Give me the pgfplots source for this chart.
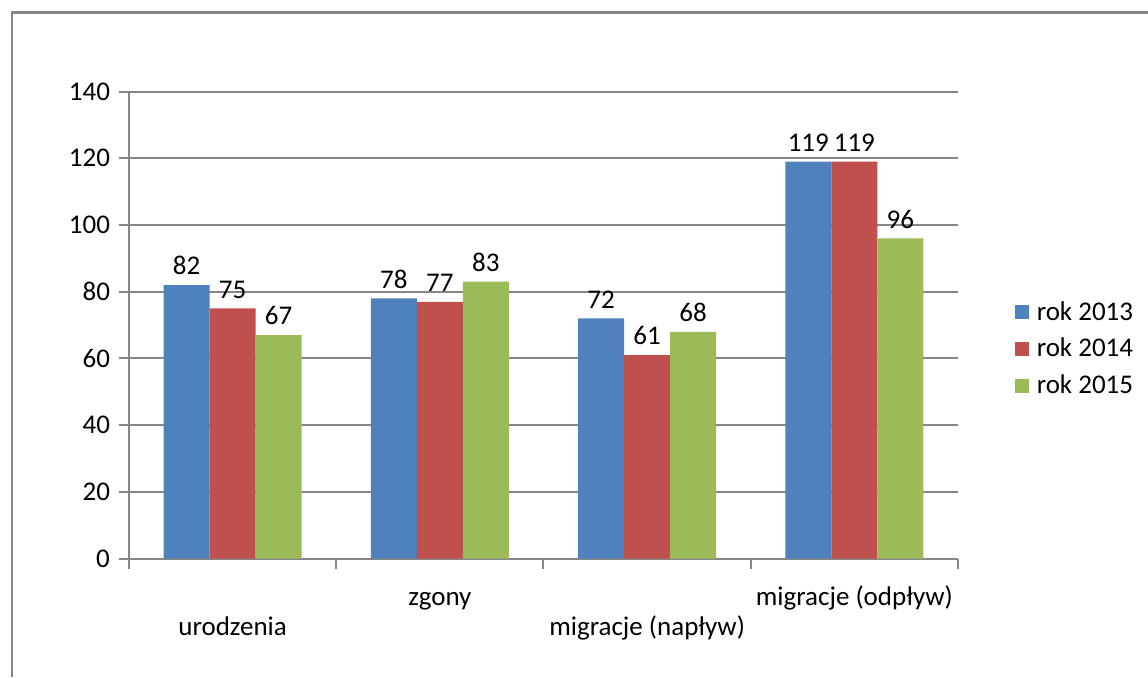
\documentclass[border=0pt]{standalone}
\usepackage{fontspec}
\setmainfont{Carlito}
\usepackage{pgfplots}
\pgfplotsset{compat=1.18}
\definecolor{axisgray}{HTML}{868686}
\definecolor{cblue}{HTML}{4F81BD}
\definecolor{cred}{HTML}{C0504D}
\definecolor{cgreen}{HTML}{9BBB59}
\newcommand{\cf}{\fontsize{13.5}{16}\selectfont}
\begin{document}
\begin{tikzpicture}
\path[use as bounding box] (0,0) rectangle (574pt,338.5pt);
\draw[axisgray, line width=1.4pt] (6pt,0pt) -- (6pt,332.2pt) -- (574pt,332.2pt);
\begin{axis}[
  at={(64.5pt,59.2pt)}, anchor=south west,
  scale only axis, width=414.5pt, height=233.5pt,
  ymin=0, ymax=140, xmin=-0.5, xmax=3.5,
  ytick={0,20,...,140},
  axis x line*=bottom, axis y line*=left,
  axis line style={axisgray, line width=1pt, -},
  ymajorgrids, grid style={axisgray, line width=1pt},
  tick align=outside, major tick length=5pt, minor tick length=5pt,
  ytick style={axisgray, line width=1pt},
  xtick={0,1,2,3},
  xtick style={draw=none},
  minor xtick={-0.5,0.5,1.5,2.5,3.5},
  minor x tick style={draw=axisgray, line width=1pt},
  xticklabels={\raisebox{-15pt}{urodzenia}, zgony, \raisebox{-15pt}{migracje (napływ)}, migracje (odpływ)},
  xticklabel style={anchor=base, yshift=-18.5pt, font=\cf},
  yticklabel style={font=\cf, text=black, xshift=-1pt},
  /pgf/number format/assume math mode=true,
  ybar=0pt, bar width=0.2222,
  nodes near coords,
  every node near coord/.append style={font=\cf, text=black, yshift=1.5pt},
  legend style={at={(1.068,0.56)}, anchor=north west, draw=none, font=\cf, row sep=3.5pt, inner sep=0pt,
    nodes={inner xsep=4pt}},
  legend cell align=left,
  legend image code/.code={\fill[#1] (0pt,-3.5pt) rectangle (7pt,3.5pt);},
]
\addplot[fill=cblue, draw=none] coordinates {(0,82) (1,78) (2,72) (3,119)};
\addplot[fill=cred, draw=none] coordinates {(0,75) (1,77) (2,61) (3,119)};
\addplot[fill=cgreen, draw=none] coordinates {(0,67) (1,83) (2,68) (3,96)};
\legend{rok 2013, rok 2014, rok 2015}
\end{axis}
\end{tikzpicture}
\end{document}
